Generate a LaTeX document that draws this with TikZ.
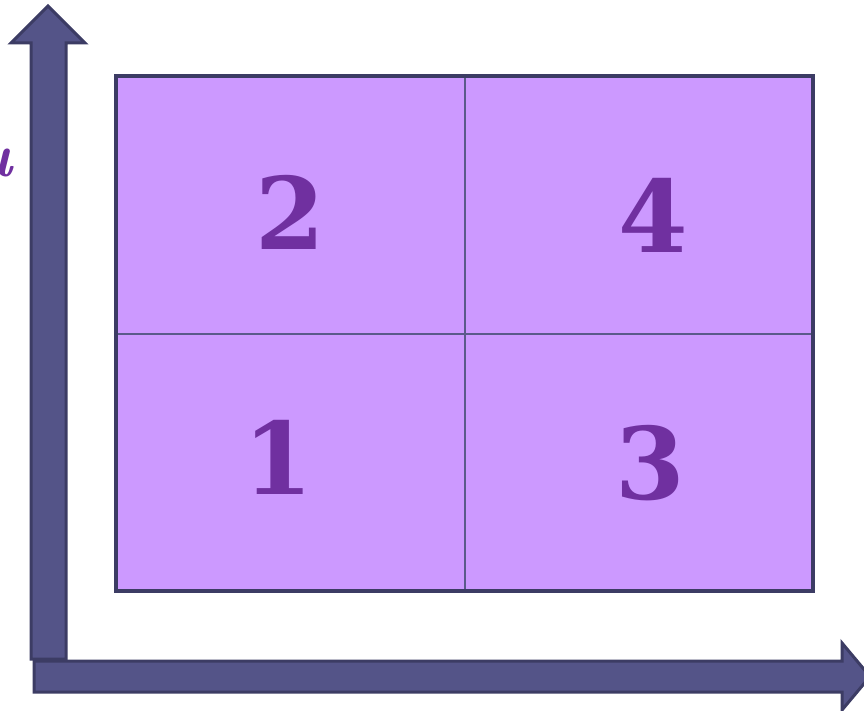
\documentclass[tikz,border=0pt]{standalone}
\usepackage{fontspec}
\usepackage{xcolor}
\usetikzlibrary{positioning}
\newfontfamily\numfont{DejaVu Serif}
\definecolor{cellfill}{HTML}{CC99FF}
\definecolor{numpurple}{HTML}{7030A0}
\definecolor{axisfill}{HTML}{545488}
\definecolor{axisline}{HTML}{3C3C64}
\definecolor{gridline}{HTML}{5A5A8A}

\begin{document}
\begin{tikzpicture}[
  x=1pt,y=-1pt,
  cell/.style={draw=gridline,line width=2pt,fill=cellfill,minimum width=348.5pt,minimum height=257.5pt,inner sep=0pt,outer sep=0pt},
  num/.style={text=numpurple,font=\numfont\fontsize{100}{100}\selectfont\bfseries,inner sep=0pt},
  axis/.style={fill=axisfill,draw=axisline,line width=3pt,line join=miter}
]
\useasboundingbox (0,0) rectangle (864,711);
% quadrants
\node[cell,anchor=north west] (q2) at (116,76) {};
\node[cell,right=0pt of q2] (q4) {};
\node[cell,below=0pt of q2] (q1) {};
\node[cell,below=0pt of q4] (q3) {};
\draw[axisline,line width=3.5pt] (q2.north west) rectangle (q3.south east);
\node[num] (n2) at (290,212) {2};
\node[num] (n4) at (653,215) {4};
\node[num] (n1) at (278,457) {1};
\node[num] (n3) at (650,463) {3};
% axes
\draw[axis] (31,659) -- (31,43) -- (11,43) -- (48,6) -- (85,43) -- (66,43) -- (66,659) -- cycle;
\draw[axis] (34,661) -- (842,661) -- (842,643) -- (870,676.5) -- (842,710) -- (842,692) -- (34,692) -- cycle;
\node[text=numpurple,font=\fontsize{62}{62}\selectfont\bfseries\itshape,anchor=base east,inner sep=0pt] (ylab) at (12,177) {u};
\end{tikzpicture}
\end{document}
